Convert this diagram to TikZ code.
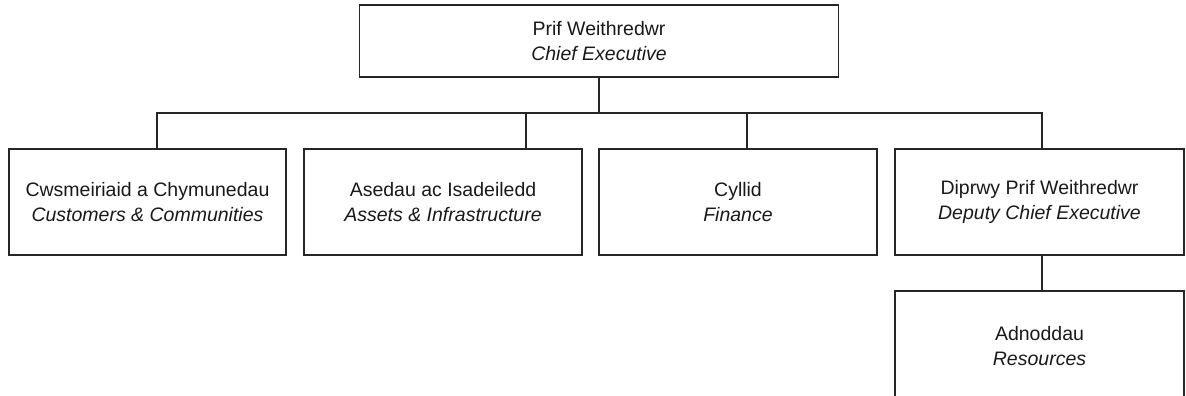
\documentclass[tikz,border=0pt]{standalone}
\usepackage{fontspec}
\setmainfont{Liberation Sans}
\begin{document}
\begin{tikzpicture}[x=1pt, y=-1pt, line width=1.2pt, draw=black!85,
	post/.style={draw, rectangle, inner sep=0pt, align=center,
		font=\fontsize{19.5}{24.5}\selectfont, text=black!90}]
			\clip (0,0) rectangle (1186,396);
			
			% top
			\node[post, minimum width=479pt, minimum height=72pt] (chief) at (599,41)
				{Prif Weithredwr\\\textit{Chief Executive}};
			
			% second row
			\node[post, minimum width=277pt, minimum height=106pt] (cust) at (147.5,202)
				{Cwsmeiriaid a Chymunedau\\\textit{Customers \& Communities}};
			\node[post, minimum width=278pt, minimum height=106pt] (asset) at (443,202)
				{Asedau ac Isadeiledd\\\textit{Assets \& Infrastructure}};
			\node[post, minimum width=278pt, minimum height=106pt] (fin) at (738,202)
				{Cyllid\\\textit{Finance}};
			\node[post, minimum width=289pt, minimum height=106pt] (dep) at (1039.5,202)
				{Diprwy Prif Weithredwr\\\textit{Deputy Chief Executive}};
			
			% under deputy
			\node[post, minimum width=289pt, minimum height=110pt] (res) at (1039.5,346)
				{Adnoddau\\\textit{Resources}};
			
			% bus
			\foreach \n/\x in {1/157, 2/526, 3/747, 4/1042}
				\coordinate (b\n) at (\x,113);
			\draw (chief.south) -- (chief.south |- b1);
			\draw (cust.north -| b1) -- (b1) -- (b4) -- (dep.north -| b4);
			\draw (b2) -- (asset.north -| b2);
			\draw (b3) -- (fin.north -| b3);
			\draw (dep.south -| b4) -- (res.north -| b4);
		\end{tikzpicture}
\end{document}
